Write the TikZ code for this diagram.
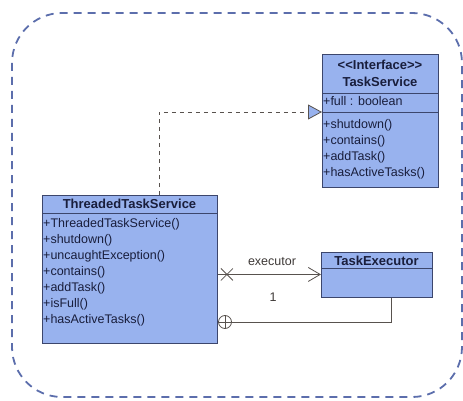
\documentclass[tikz,border=0pt]{standalone}
\usepackage{fontspec}
\setmainfont{Liberation Sans}
\usepackage{tikz}
\usetikzlibrary{arrows.meta,calc}

\definecolor{classfill}{RGB}{152,178,238}
\definecolor{classline}{RGB}{60,70,108}
\definecolor{frameblue}{RGB}{92,110,172}
\definecolor{linkgray}{RGB}{88,82,78}
\definecolor{textnavy}{RGB}{25,30,60}

\tikzset{
  classbox/.style={draw=classline, fill=classfill, line width=0.9pt, anchor=north west, inner sep=0pt},
  classname/.style={font=\fontsize{13}{15}\selectfont\bfseries, text=textnavy, inner sep=0pt},
  member/.style={font=\fontsize{12.5}{16}\selectfont, text=textnavy, anchor=west, inner sep=0pt, text height=9pt, text depth=2.5pt},
  link/.style={draw=linkgray, line width=0.8pt},
}

\begin{document}
\begin{tikzpicture}[x=1pt, y=-1pt]
    \useasboundingbox (0,0) rectangle (463,401);

    % Package frame
    \draw[frameblue, line width=1.8pt, dash pattern=on 8pt off 6pt, rounded corners=50pt] (12,13) rectangle (462,397);

    % TaskService interface
    \node[classbox, minimum width=116pt, minimum height=39pt] (tsHead) at (322,54) {};
    \node[classname] (tsStereo) at (380,65) {<{}<Interface>{}>};
    \node[classname] (tsName) at (380,82) {TaskService};
    \node[classbox, minimum width=116pt, minimum height=19pt] (tsAttr) at (322,93) {};
    \node[member] (tsFull) at (323,102) {+full : boolean};
    \node[classbox, minimum width=116pt, minimum height=75pt] (tsOps) at (322,112) {};
    \node[member] (tsShutdown) at (323,125) {+shutdown()};
    \node[member] (tsContains) at (323,141) {+contains()};
    \node[member] (tsAdd) at (323,157) {+addTask()};
    \node[member] (tsActive) at (323,173) {+hasActiveTasks()};

    % ThreadedTaskService class
    \node[classbox, minimum width=175pt, minimum height=18pt] (ttsHead) at (42,195) {};
    \node[classname] (ttsName) at (129.5,204) {ThreadedTaskService};
    \node[classbox, minimum width=175pt, minimum height=130pt] (ttsBody) at (42,213) {};
    \node[member] (ttsCtor) at (43,224) {+ThreadedTaskService()};
    \node[member] (ttsShutdown) at (43,240) {+shutdown()};
    \node[member] (ttsUncaught) at (43,256) {+uncaughtException()};
    \node[member] (ttsContains) at (43,272) {+contains()};
    \node[member] (ttsAdd) at (43,288) {+addTask()};
    \node[member] (ttsFull) at (43,304) {+isFull()};
    \node[member] (ttsActive) at (43,320) {+hasActiveTasks()};

    % TaskExecutor class
    \node[classbox, minimum width=111pt, minimum height=16pt] (teHead) at (321,252) {};
    \node[classname] (teName) at (376.5,260.5) {TaskExecutor};
    \node[classbox, minimum width=111pt, minimum height=29pt] (teBody) at (321,268) {};

    % Realization
    \draw[link, dash pattern=on 4pt off 4pt, -{Triangle[open, length=14pt, width=15pt, fill=classfill]}]
        ([xshift=29pt]ttsHead.north) |- (tsOps.north west);

    % Navigable association
    \draw[link, -{Straight Barb[length=12pt, width=14pt]}]
        ([yshift=4pt]ttsBody.east) -- ([yshift=4pt]ttsBody.east -| teBody.west);
    \coordinate (navX) at ([xshift=9pt, yshift=4pt]ttsBody.east);
    \draw[link] (navX) +(-6,-6) -- +(6,6) (navX) +(-6,6) -- +(6,-6);
    \node[member, anchor=center, text=linkgray!70!black] (execLabel) at (272,262) {executor};
    \node[member, anchor=center, text=linkgray!70!black] (multLabel) at (273,298) {1};

    % Nesting
    \node[link, circle, inner sep=0pt, minimum size=13pt] (ownCircle) at (225,322) {};
    \draw[link] (ownCircle.north) -- (ownCircle.south) (ownCircle.west) -- (ownCircle.east);
    \draw[link] ([xshift=14.5pt]teBody.south) |- (ownCircle.east);
    \draw[link] (ownCircle.west) -- (ttsBody.east |- ownCircle.west);
\end{tikzpicture}
\end{document}
